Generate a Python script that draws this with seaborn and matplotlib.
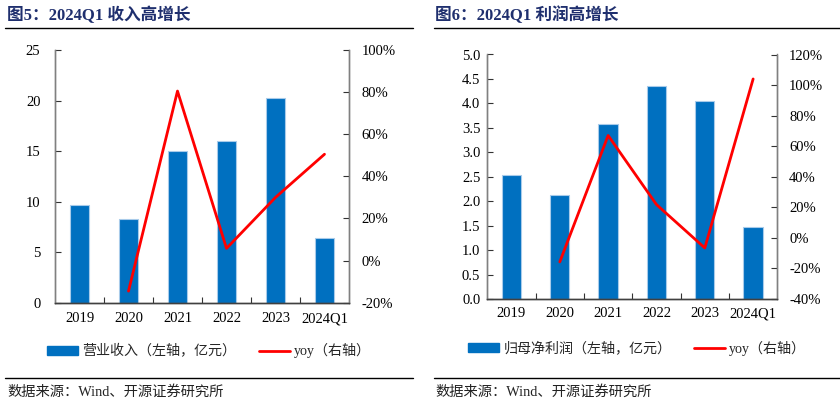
import matplotlib
matplotlib.use("Agg")
import matplotlib.pyplot as plt
from matplotlib.lines import Line2D
from matplotlib.patches import Patch
from matplotlib.ticker import FixedLocator, FuncFormatter
import numpy as np
import seaborn as sns

# ---------------- data ----------------
categories = ["2019", "2020", "2021", "2022", "2023", "2024Q1"]
revenue = [9.7, 8.25, 15.0, 15.95, 20.3, 6.4]          # 亿元
revenue_yoy = [None, -14.5, 80.5, 5.8, 30.0, 50.5]      # %
profit = [2.54, 2.13, 3.57, 4.35, 4.05, 1.47]           # 亿元
profit_yoy = [None, -15.7, 67.0, 21.8, -6.6, 104.0]     # %

left_title = "图5：2024Q1 收入高增长"
right_title = "图6：2024Q1 利润高增长"
left_bar_label = "营业收入（左轴，亿元）"
right_bar_label = "归母净利润（左轴，亿元）"
line_label = "yoy（右轴）"
source = "数据来源：Wind、开源证券研究所"

sns.set_theme(style="white")
FAM = ["Liberation Serif", "Noto Sans CJK SC", "DejaVu Sans"]
plt.rcParams["font.family"] = FAM

BAR = "#0070C0"
EDGE = "#A8CBEA"
RED = "#FF0000"
NAVY = "#1F2F6E"
SPINE = "#808080"

fig = plt.figure(figsize=(8.4, 4.12), dpi=100)


def panel(rect, vals, yoy, ylim, yticks, yfmt, y2lim, y2ticks, pads):
    ax = fig.add_axes(rect)
    sns.barplot(x=categories, y=vals, color=BAR, saturation=1, width=0.4,
                edgecolor=EDGE, linewidth=0.8, ax=ax)
    ax.set_xlim(-0.5, len(categories) - 0.5)
    ax.set_ylim(*ylim)
    ax.yaxis.set_major_locator(FixedLocator(yticks))
    ax.yaxis.set_major_formatter(FuncFormatter(yfmt))
    ax.set_xlabel("")
    ax.set_ylabel("")
    ax2 = ax.twinx()
    idx = [i for i, v in enumerate(yoy) if v is not None]
    yv = [yoy[i] for i in idx]
    sns.lineplot(x=idx, y=yv, color=RED, linewidth=2.0, ax=ax2,
                 estimator=None, sort=False)
    ax2.set_ylim(*y2lim)
    ax2.yaxis.set_major_locator(FixedLocator(y2ticks))
    ax2.yaxis.set_major_formatter(FuncFormatter(lambda v, p: f"{v:.0f}%"))
    ax2.set_ylabel("")
    ax2.set_xlim(-0.5, len(categories) - 0.5)

    for a in (ax, ax2):
        a.spines["top"].set_visible(False)
        for s in ("left", "right"):
            a.spines[s].set_color(SPINE)
            a.spines[s].set_linewidth(1.0)
        a.spines["bottom"].set_color("#404040")
        a.spines["bottom"].set_linewidth(1.0)
        a.grid(False)
    ax.tick_params(axis="y", direction="in", length=4, width=0.8, color="#333333",
                   labelsize=10.5, pad=pads[0], left=True)
    ax2.tick_params(axis="y", direction="in", length=4, width=0.8, color="#333333",
                    labelsize=10.5, pad=pads[1], right=True)
    ax.set_xticks(range(len(categories)))
    ax.set_xticklabels(categories)
    ax.xaxis.set_minor_locator(FixedLocator(np.arange(len(categories) - 1) + 0.5))
    ax.tick_params(axis="x", which="major", length=0, labelsize=10.5, pad=pads[2],
                   bottom=True)
    ax.tick_params(axis="x", which="minor", direction="in", length=4, width=0.8,
                   color="#333333", bottom=True)
    for lab in ax.get_xticklabels() + ax.get_yticklabels() + ax2.get_yticklabels():
        lab.set_family(FAM)
        lab.set_color("black")
    return ax, ax2


panel([55 / 840, 1 - 302.7 / 412, 294 / 840, 252.7 / 412], revenue, revenue_yoy,
      (0, 25), [0, 5, 10, 15, 20, 25], lambda v, p: f"{v:.0f}",
      (-20, 100), [-20, 0, 20, 40, 60, 80, 100], (10.5, 9, 7))
panel([487.3 / 840, 1 - 299 / 412, 290 / 840, 244.5 / 412], profit, profit_yoy,
      (0, 5), list(np.arange(0, 5.01, 0.5)), lambda v, p: f"{v:.1f}",
      (-40, 120), [-40, -20, 0, 20, 40, 60, 80, 100, 120], (5, 8.5, 6))

# titles
fig.text(7 / 840, 1 - 15 / 412, left_title, fontsize=12, fontweight="bold",
         color=NAVY, va="center", ha="left", family=FAM)
fig.text(435 / 840, 1 - 15 / 412, right_title, fontsize=12, fontweight="bold",
         color=NAVY, va="center", ha="left", family=FAM)

# rule lines
for (x0, x1) in ((5, 413), (434, 840)):
    for y in (28, 378.3):
        fig.add_artist(Line2D([x0 / 840, x1 / 840], [1 - y / 412, 1 - y / 412],
                              color="black", linewidth=1.0))

# sources
fig.text(7 / 840, 1 - 392 / 412, source, fontsize=10.3, va="center", ha="left",
         family=FAM, color="#222222")
fig.text(435 / 840, 1 - 392 / 412, source, fontsize=10.3, va="center", ha="left",
         family=FAM, color="#222222")

# legends
for label, cx, cy in ((left_bar_label, 209, 351), (right_bar_label, 637, 348)):
    handles = [Patch(facecolor=BAR, edgecolor=BAR),
               Line2D([0], [0], color=RED, linewidth=2.0)]
    leg = fig.legend(handles, [label, line_label], loc="center",
                     bbox_to_anchor=(cx / 840, 1 - cy / 412), ncol=2,
                     frameon=False, handlelength=2.2,
                     handleheight=0.55, handletextpad=0.3, columnspacing=1.6,
                     prop={"family": FAM, "size": 10.1})

fig.savefig("out.png", dpi=100)
